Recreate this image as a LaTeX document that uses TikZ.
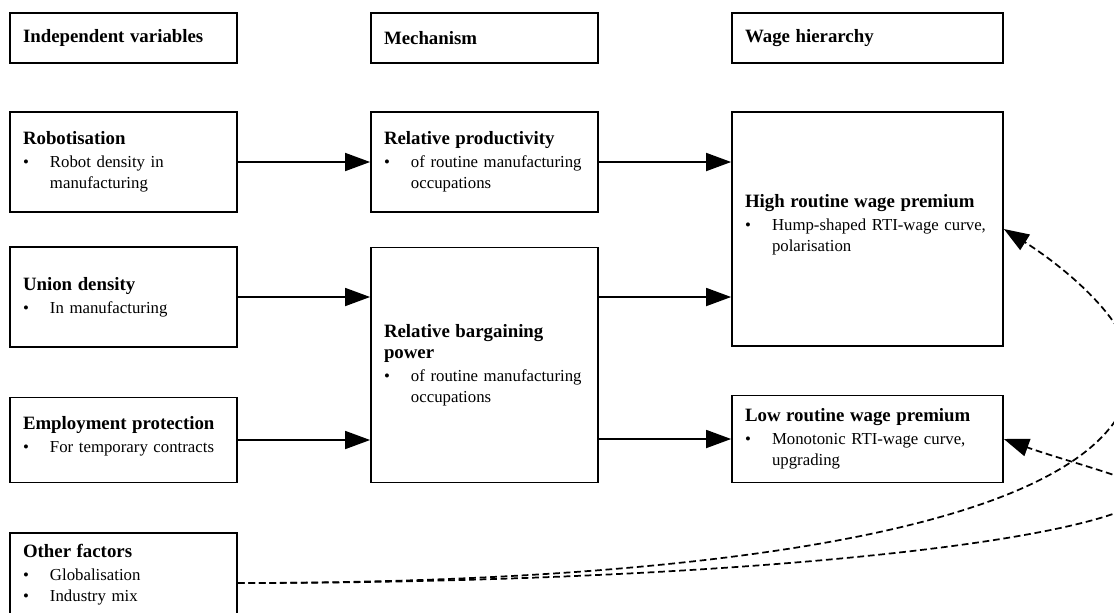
\documentclass[tikz,border=0pt]{standalone}
\usepackage{fontspec}
\setmainfont{Liberation Serif}
\usetikzlibrary{arrows.meta}

\newcommand{\hd}[1]{{\fontsize{12}{13.7}\selectfont\bfseries #1}}
\newcommand{\bitem}[1]{\makebox[17.2pt][l]{\textbullet}#1}
\newcommand{\bcont}{\hspace*{17.2pt}}

\begin{document}
\begin{tikzpicture}[x=0.0224cm, y=-0.0224cm,
    >={Triangle[length=16pt,width=11.5pt]},
    box/.style={draw, line width=1.1pt, align=left, inner xsep=8.3pt,
      inner ysep=0pt, font=\fontsize{10.7}{13.4}\selectfont},
    narrow/.style={box, minimum width=144.7pt, text width=128.1pt},
    wide/.style={box, minimum width=172.7pt, text width=156.1pt},
    link/.style={->, line width=1.1pt},
    hint/.style={->, line width=1.1pt, dash pattern=on 4.3pt off 2.4pt}]
  % Page frame; the dashed loops run off its right edge.
  \useasboundingbox (0,0) rectangle (1114,612);
  \clip (0,0) rectangle (1114,612);
  % Column headers.
  \node[narrow, minimum height=31.9pt] (hindep) at (123.5,38) {\hd{Independent variables}};
  \node[narrow, minimum height=31.9pt] (hmech) at (484.5,38) {\hd{Mechanism}};
  \node[wide, minimum height=31.9pt] (hwage) at (867.5,38) {\hd{Wage hierarchy}};
  % Independent variables.
  \node[narrow, minimum height=63.7pt] (robot) at (123.5,162)
    {\hd{Robotisation}\\[1.2pt] \bitem{Robot density in}\\ \bcont manufacturing};
  \node[narrow, minimum height=63.7pt] (union) at (123.5,297)
    {\hd{Union density}\\[1.2pt] \bitem{In manufacturing}};
  \node[narrow, minimum height=54.2pt] (emp) at (123.5,440)
    {\hd{Employment protection}\\[1.2pt] \bitem{For temporary contracts}\\[-6pt] \mbox{}};
  \node[narrow, minimum height=63.7pt] (other) at (123.5,583)
    {\hd{Other factors}\\[1.2pt] \bitem{Globalisation}\\ \bitem{Industry mix}\\ \mbox{}};
  % Mechanisms.
  \node[narrow, minimum height=63.7pt] (relprod) at (484.5,162)
    {\hd{Relative productivity}\\[1.2pt] \bitem{of routine manufacturing}\\ \bcont occupations};
  \node[narrow, minimum height=149.8pt] (barg) at (484.5,365)
    {\hd{Relative bargaining}\\ \hd{power}\\[1.2pt] \bitem{of routine manufacturing}\\ \bcont occupations};
  % Outcomes.
  \node[wide, minimum height=149.1pt] (high) at (867.5,229)
    {\hd{High routine wage premium}\\[1.2pt] \bitem{Hump-shaped RTI-wage curve,}\\ \bcont polarisation\\[-6pt] \mbox{}};
  \node[wide, minimum height=55.4pt] (low) at (867.5,439)
    {\hd{Low routine wage premium}\\[1.2pt] \bitem{Monotonic RTI-wage curve,}\\ \bcont upgrading};
  % Solid links.
  \draw[link] (robot) -- (relprod);
  \draw[link] (relprod) -- (relprod -| high.west);
  \draw[link] (union) -- (union -| barg.west);
  \draw[link] (barg.east |- union) -- (union -| high.west);
  \draw[link] (emp) -- (emp -| barg.west);
  \draw[link] (barg.east |- low) -- (low);
  % Dashed loops from the other factors.
  \draw[hint] (other.east) .. controls (650,583) and (1130,540) .. (1132,370)
    .. controls (1132,320) and (1058,263) .. (high.east);
  \draw[hint] (other.east) .. controls (700,583) and (1100,545) .. (1150,495)
    .. controls (1160,485) and (1068,462) .. (low.east);
\end{tikzpicture}
\end{document}
